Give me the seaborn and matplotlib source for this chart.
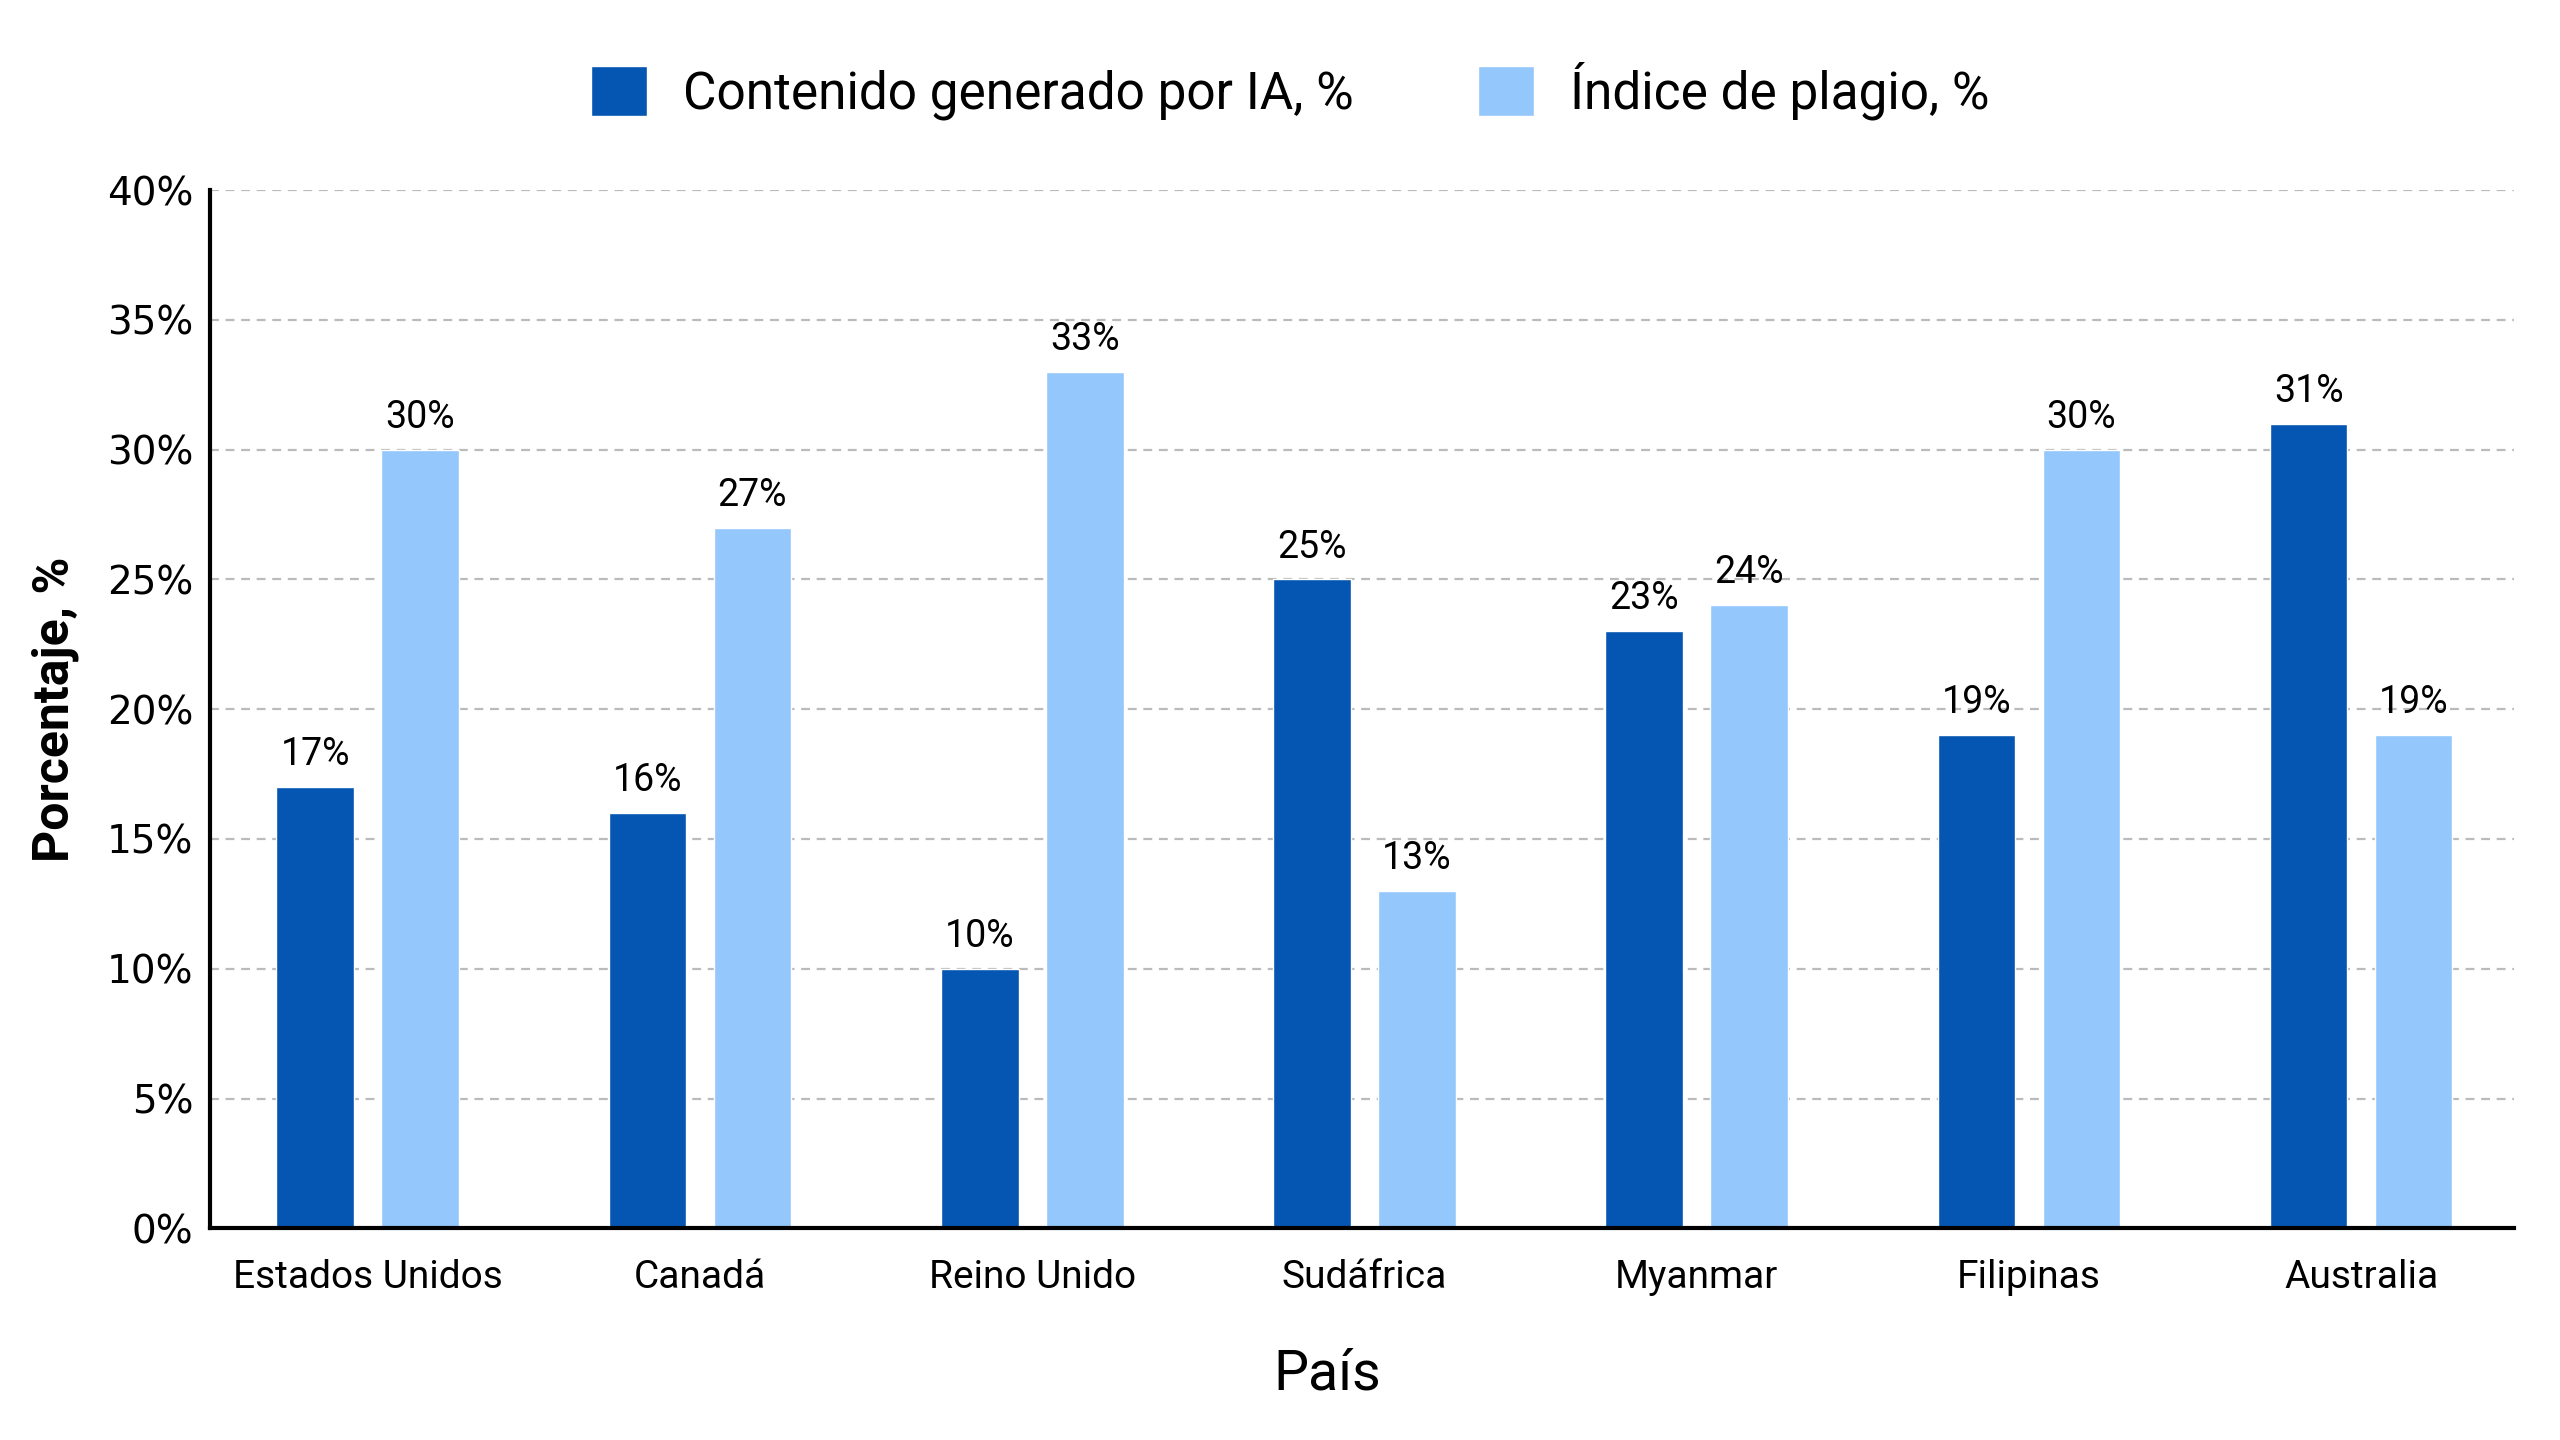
import numpy as np
import pandas as pd
import matplotlib
matplotlib.use('Agg')
import matplotlib.pyplot as plt
import seaborn as sns
from matplotlib.ticker import PercentFormatter

paises = ['Estados Unidos', 'Canadá', 'Reino Unido', 'Sudáfrica', 'Myanmar', 'Filipinas', 'Australia']
contenido_ia = [17, 16, 10, 25, 23, 19, 31]
plagio = [30, 27, 33, 13, 24, 30, 19]
series = ['Contenido generado por IA, %', 'Índice de plagio, %']
colores = ['#0555B2', '#94C7FB']

df = pd.DataFrame({
    'País': paises * 2,
    'valor': contenido_ia + plagio,
    'serie': [series[0]] * len(paises) + [series[1]] * len(paises),
})

sns.set_theme(style='white')
fam = ['Roboto', 'DejaVu Sans']
plt.rcParams['font.family'] = fam
plt.rcParams['text.color'] = 'black'
plt.rcParams['axes.labelcolor'] = 'black'
plt.rcParams['xtick.color'] = 'black'
plt.rcParams['ytick.color'] = 'black'

fig, ax = plt.subplots(figsize=(25.6, 14.4), dpi=100)
fig.subplots_adjust(left=0.082, right=0.982, top=0.868, bottom=0.147)

sns.barplot(data=df, x='País', y='valor', hue='serie', palette=colores,
            saturation=1, width=0.632, gap=0.26, ax=ax, legend=True)

for cont in ax.containers:
    ax.bar_label(cont, labels=[f'{v:.0f}%' for v in cont.datavalues],
                 padding=10, fontsize=27, color='black')

ax.set_ylim(0, 40)
ax.set_xlim(-0.475, 6.46)
ax.set_yticks(np.arange(0, 41, 5))
ax.yaxis.set_major_formatter(PercentFormatter(decimals=0))
ax.grid(axis='y', linestyle=(0, (4, 3)), color='#bbbbbb', linewidth=1.6)
ax.set_axisbelow(True)

for s in ['top', 'right']:
    ax.spines[s].set_visible(False)
for s in ['left', 'bottom']:
    ax.spines[s].set_color('black')
    ax.spines[s].set_linewidth(3)

ax.tick_params(axis='x', labelsize=28, pad=22, length=0)
ax.tick_params(axis='y', labelsize=28, pad=12, length=0)
for lab in ax.get_yticklabels():
    lab.set_family('DejaVu Sans')

ax.set_xlabel('País', fontsize=40, labelpad=36)
ax.xaxis.set_label_coords(0.485, -0.115)
ax.set_ylabel('Porcentaje, %', fontsize=36, fontweight='semibold', labelpad=20)

handles, labels = ax.get_legend_handles_labels()
ax.get_legend().remove()
fig.legend(handles, labels, loc='center', bbox_to_anchor=(0.504, 0.937), ncol=2,
           frameon=False, fontsize=37, handlelength=1.1, handleheight=1.1,
           columnspacing=2.4, handletextpad=0.7)

fig.savefig('out.png', dpi=100, facecolor='white')
